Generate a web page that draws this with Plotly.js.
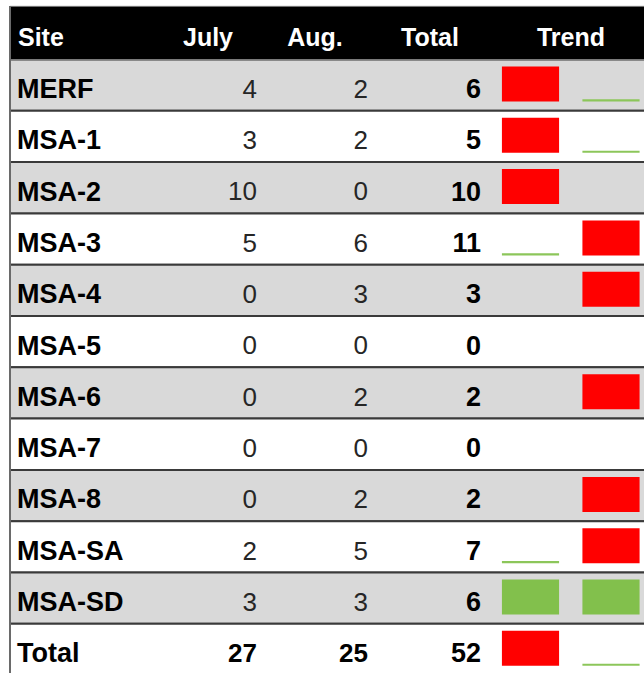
<!DOCTYPE html>
<html>
<head>
<meta charset="utf-8">
<script src="https://cdn.plot.ly/plotly-3.0.1.min.js"></script>
<style>html,body{margin:0;padding:0;background:#fff;}#chart{width:644px;height:673px;}</style>
</head>
<body>
<div id="chart"></div>
<script>
// ---- data ----
const headers = ["Site", "July", "Aug.", "Total", "Trend"];
const months = ["July", "Aug."];
const sites = ["MERF", "MSA-1", "MSA-2", "MSA-3", "MSA-4", "MSA-5", "MSA-6", "MSA-7", "MSA-8", "MSA-SA", "MSA-SD"];
const july = [4, 3, 10, 5, 0, 0, 0, 0, 0, 2, 3];
const aug = [2, 2, 0, 6, 3, 0, 2, 0, 2, 5, 3];
const totals = [6, 5, 10, 11, 3, 0, 2, 0, 2, 7, 6];
const totalLabel = "Total";
const totalJuly = 27;
const totalAug = 25;
const totalAll = 52;

// ---- build rows ----
const rowNames = sites.concat([totalLabel]);
const rowJuly = july.concat([totalJuly]);
const rowAug = aug.concat([totalAug]);
const rowTot = totals.concat([totalAll]);
const idx = rowNames.map((_, i) => i);

const FONT = "Liberation Sans, Arial, sans-serif";
const traces = [];

// row background cells
traces.push({
  type: "bar", orientation: "h", xaxis: "x", yaxis: "y",
  y: idx, x: idx.map(() => 700), base: 10, width: 1,
  marker: { color: idx.map(i => i % 2 === 0 ? "#d9d9d9" : "#ffffff"), line: { color: "#3a3a3a", width: 2 } },
  hoverinfo: "skip", showlegend: false
});
// header band
traces.push({
  type: "bar", orientation: "h", xaxis: "x", yaxis: "y",
  y: [-1.018], x: [700], base: 10, width: 1.036,
  marker: { color: "#000000", line: { color: "#7a7a7a", width: 1 } },
  hoverinfo: "skip", showlegend: false
});

// trend marks (win/loss style): larger month = red box, smaller = green line, equal = green boxes, zero = none
const boxTop = -0.364, boxBot = 0.319, lineH = 0.042;
const red = { x: [], base: [], y: [] }, gbox = { x: [], base: [], y: [] }, gline = { x: [], base: [], y: [] };
idx.forEach(i => {
  const vals = [rowJuly[i], rowAug[i]];
  vals.forEach((v, m) => {
    if (v === 0) return;
    const other = vals[1 - m];
    let tgt;
    if (v === other) tgt = gbox;
    else if (v > other) tgt = red;
    else tgt = gline;
    tgt.x.push(months[m]);
    tgt.base.push(i + boxBot);
    tgt.y.push(tgt === gline ? -lineH : (boxTop - boxBot));
  });
});
[[red, "#ff0000"], [gbox, "#82c04c"], [gline, "#8cc65a"]].forEach(([s, c]) => {
  traces.push({
    type: "bar", xaxis: "x2", yaxis: "y",
    x: s.x, y: s.y, base: s.base, width: 0.71,
    marker: { color: c, line: { width: 0 } },
    hoverinfo: "skip", showlegend: false
  });
});

// header text
const hdrX = [18, 208, 315, 430, 571];
const hdrPos = ["middle right", "middle center", "middle center", "middle center", "middle center"];
traces.push({
  type: "scatter", mode: "text", xaxis: "x", yaxis: "y", cliponaxis: false,
  x: hdrX, y: headers.map(() => -0.88), text: headers, textposition: hdrPos,
  textfont: { family: FONT, size: 25, color: "#ffffff", weight: 700 },
  hoverinfo: "skip", showlegend: false
});

const ty = idx.map(i => i + 0.12);
// site names
traces.push({
  type: "scatter", mode: "text", xaxis: "x", yaxis: "y", cliponaxis: false,
  x: idx.map(() => 17), y: ty, text: rowNames, textposition: "middle right",
  textfont: { family: FONT, size: 27, color: "#000000", weight: 700 },
  hoverinfo: "skip", showlegend: false
});
// July / Aug values (regular for sites, bold for total)
[[rowJuly, 257], [rowAug, 368]].forEach(([arr, xr]) => {
  traces.push({
    type: "scatter", mode: "text", xaxis: "x", yaxis: "y", cliponaxis: false,
    x: idx.map(() => xr), y: ty, text: arr.map(String), textposition: "middle left",
    textfont: { family: FONT, size: 26, color: idx.map(i => i === 11 ? "#000000" : "#262626"),
      weight: idx.map(i => i === 11 ? 700 : 400) },
    hoverinfo: "skip", showlegend: false
  });
});
// totals
traces.push({
  type: "scatter", mode: "text", xaxis: "x", yaxis: "y", cliponaxis: false,
  x: idx.map(() => 481), y: ty, text: rowTot.map(String), textposition: "middle left",
  textfont: { family: FONT, size: 27, color: "#000000", weight: 700 },
  hoverinfo: "skip", showlegend: false
});

const layout = {
  width: 644, height: 673,
  margin: { l: 0, r: 0, t: 0, b: 0 },
  paper_bgcolor: "#ffffff", plot_bgcolor: "rgba(0,0,0,0)",
  barmode: "overlay",
  showlegend: false,
  xaxis: { range: [0, 644], visible: false, fixedrange: true },
  xaxis2: { type: "category", categoryarray: months, categoryorder: "array", domain: [490.25 / 644, 1],
    range: [-0.5, (644 - 490.25) / 80.5 - 0.5], anchor: "y", visible: false, fixedrange: true },
  yaxis: { range: [11.459, -1.66], visible: false, fixedrange: true },
  shapes: [
    { type: "line", xref: "paper", yref: "paper", x0: 10 / 644, x1: 10 / 644, y0: 0, y1: 1 - 6 / 673,
      line: { color: "#6a6a6a", width: 2 } }
  ]
};

Plotly.newPlot("chart", traces, layout, { displayModeBar: false, staticPlot: true });
</script>
</body>
</html>
